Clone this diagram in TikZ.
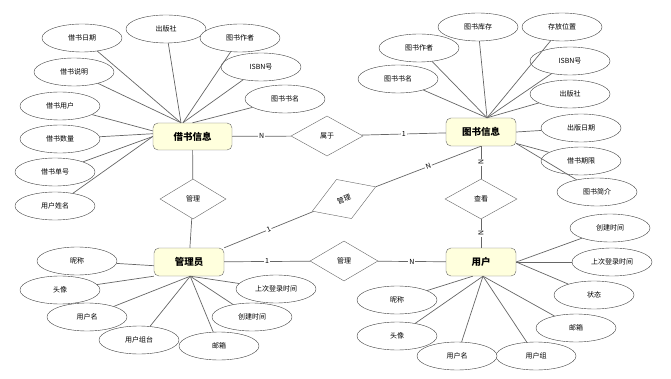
\documentclass[tikz,border=0pt]{standalone}
\usepackage{fontspec}
\setmainfont{Noto Sans CJK SC}
\usepackage{xcolor}
\usepackage{tikz}
\usetikzlibrary{shapes.geometric}
\definecolor{EntFill}{HTML}{FFFFDD}
\definecolor{LineGray}{HTML}{666666}

\begin{document}
\begin{tikzpicture}[x=1pt, y=-1pt,
            entity/.style={draw=LineGray, fill=EntFill, rounded corners=5pt, minimum width=70pt, minimum height=28pt, inner sep=0pt, font=\fontsize{9.5}{11}\selectfont\bfseries},
            attr/.style={ellipse, draw=black!75, fill=white, minimum width=80pt, minimum height=28pt, inner sep=0pt, font=\fontsize{7}{8}\selectfont},
            rel/.style={diamond, draw=LineGray, fill=white, minimum width=70pt, minimum height=40pt, inner sep=0pt, font=\fontsize{7}{8}\selectfont},
            link/.style={draw=LineGray, line width=0.7pt},
            card/.style={fill=white, inner sep=1pt, font=\fontsize{7}{8}\selectfont}
        ]
            \useasboundingbox (0,0) rectangle (671,379);

            \node[entity, minimum width=79pt, minimum height=27pt] (jsxx) at (192.5,136.5) {借书信息};
            \node[entity] (tsxx) at (481,132) {图书信息};
            \node[entity] (gly) at (189,262) {管理员};
            \node[entity] (yh) at (481,262) {用户};

            \node[rel, minimum width=72pt] (sy) at (327,136) {属于};
            \node[rel, minimum width=66pt] (gl1) at (193,199) {管理};
            \node[rel, minimum width=72pt] (ck) at (481,199) {查看};
            \node[rel, minimum width=68pt] (gl2) at (344,261) {管理};
            \node[rel, minimum width=68pt, minimum height=42pt, rotate=21] (gl3) at (344,199) {管理};

            \node[attr] (jsrq) at (82,38) {借书日期};
            \node[attr] (jcbs) at (166,29) {出版社};
            \node[attr] (jtszz) at (240,38) {图书作者};
            \node[attr] (jisbn) at (261,67) {ISBN号};
            \node[attr] (jtssm) at (285,99) {图书书名};
            \node[attr] (jssm) at (74,72) {借书说明};
            \node[attr] (jsyh) at (60,106) {借书用户};
            \node[attr] (jssl) at (60,139) {借书数量};
            \node[attr] (jsdh) at (55,172) {借书单号};
            \node[attr] (yhxm) at (55,206) {用户姓名};

            \node[attr] (ttszz) at (419,48) {图书作者};
            \node[attr] (tskc) at (478,27) {图书库存};
            \node[attr] (cfwz) at (562,27) {存放位置};
            \node[attr] (tisbn) at (570,61) {ISBN号};
            \node[attr] (ttssm) at (398,79) {图书书名};
            \node[attr] (tcbs) at (570,94) {出版社};
            \node[attr] (cbrq) at (581,128) {出版日期};
            \node[attr] (jsqx) at (581,161) {借书期限};
            \node[attr] (tsjj) at (597,192) {图书简介};

            \node[attr] (gnc) at (77,261) {昵称};
            \node[attr] (gtx) at (60,290) {头像};
            \node[attr] (gyhm) at (87,317) {用户名};
            \node[attr] (gyhz) at (139,340) {用户组台};
            \node[attr] (gyx) at (219,346) {邮箱};
            \node[attr] (gcjsj) at (252,317) {创建时间};
            \node[attr] (gscdl) at (276,289) {上次登录时间};

            \node[attr] (ucjsj) at (610,228) {创建时间};
            \node[attr] (uscdl) at (612,262) {上次登录时间};
            \node[attr] (uzt) at (594,295) {状态};
            \node[attr] (uyx) at (576,328) {邮箱};
            \node[attr] (uyhz) at (536,356) {用户组};
            \node[attr] (uyhm) at (457,356) {用户名};
            \node[attr] (utx) at (397,336) {头像};
            \node[attr] (unc) at (397,300) {昵称};

            \draw[link] (jsxx) -- node[card] {N} (sy);
            \draw[link] (sy) -- node[card] {1} (tsxx);
            \draw[link] (jsxx) -- (gl1);
            \draw[link] (gl1) -- (gly);
            \draw[link] (gly) -- node[card] {1} (gl2);
            \draw[link] (gl2) -- node[card] {N} (yh);
            \draw[link] (gly.north east) -- node[card, sloped] {1} (gl3);
            \draw[link] (gl3) -- node[card, sloped] {N} (tsxx.south);
            \draw[link] (tsxx) -- node[card, sloped] {N} (ck);
            \draw[link] (ck) -- node[card, sloped] {N} (yh);

            \draw[link] (jsrq) -- (jsxx.130);
            \draw[link] (jcbs) -- (jsxx.130);
            \draw[link] (jssm) -- (jsxx.130);
            \draw[link] (jtszz) -- (jsxx.125);
            \draw[link] (jisbn) -- (jsxx.125);
            \draw[link] (jtssm) -- (jsxx.north);
            \draw[link] (jsyh) -- (jsxx.172);
            \draw[link] (jssl) -- (jsxx.176);
            \draw[link] (jsdh) -- (jsxx.west);
            \draw[link] (yhxm) -- (jsxx.west);

            \draw[link] (ttszz) -- (tsxx.67);
            \draw[link] (tskc) -- (tsxx.67);
            \draw[link] (cfwz) -- (tsxx.67);
            \draw[link] (tisbn) -- (tsxx.67);
            \draw[link] (ttssm) -- (tsxx.67);
            \draw[link] (tcbs) -- (tsxx.67);
            \draw[link] (cbrq) -- (tsxx.east);
            \draw[link] (jsqx) -- (tsxx.-18);
            \draw[link] (tsjj) -- (tsxx.-18);

            \draw[link] (gnc) -- (gly.186);
            \draw[link] (gtx) -- (gly.south west);
            \draw[link] (gyhm) -- (gly.-85);
            \draw[link] (gyhz) -- (gly.-85);
            \draw[link] (gyx) -- (gly.-85);
            \draw[link] (gcjsj) -- (gly.-85);
            \draw[link] (gscdl) -- (gly.-85);

            \draw[link] (ucjsj) -- (yh.east);
            \draw[link] (uscdl) -- (yh.east);
            \draw[link] (uzt) -- (yh.east);
            \draw[link] (uyx) -- (yh.-82);
            \draw[link] (uyhz) -- (yh.-82);
            \draw[link] (uyhm) -- (yh.-82);
            \draw[link] (utx) -- (yh.-82);
            \draw[link] (unc) -- (yh.-120);

        \end{tikzpicture}
\end{document}
